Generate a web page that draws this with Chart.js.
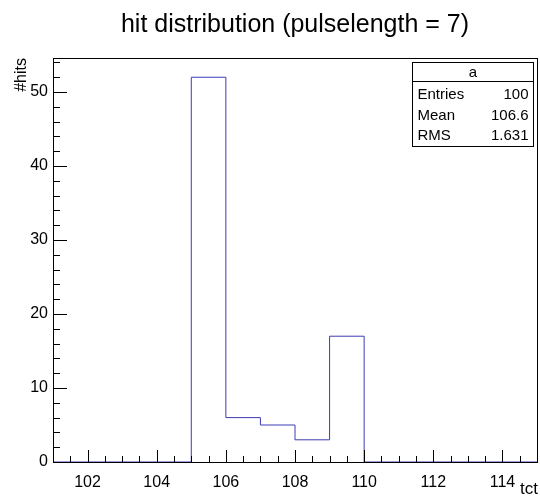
<!DOCTYPE html>
<html>
<head>
<meta charset="utf-8">
<script src="https://cdn.jsdelivr.net/npm/chart.js@4"></script>
<style>
  body { margin: 0; background: #fff; }
  canvas { display: block; }
</style>
</head>
<body>
<canvas id="hist" width="540" height="500"></canvas>
<script>
// histogram "a": one bin per unit, low edges 101..114
const binLowEdges = [101, 102, 103, 104, 105, 106, 107, 108, 109, 110, 111, 112, 113, 114];
const binCounts   = [0, 0, 0, 0, 52, 6, 5, 3, 17, 0, 0, 0, 0, 0];
const binWidth = 1;

const xTickLabels = [102, 104, 106, 108, 110, 112, 114];
const yTickLabels = [0, 10, 20, 30, 40, 50];

const statsName   = 'a';
const statsLabels = ['Entries', 'Mean', 'RMS'];
const statsValues = ['100', '106.6', '1.631'];

const FONT = '"Liberation Sans", Arial, Helvetica, sans-serif';

// step points: low edge of each bin, plus closing point at the last upper edge
const stepPoints = binLowEdges.map((x, i) => ({ x: x, y: binCounts[i] }));
stepPoints.push({ x: binLowEdges[binLowEdges.length - 1] + binWidth, y: 0 });

// ROOT style frame: box around plot, ticks pointing inward, titles, stats box
const rootFrame = {
    id: 'rootFrame',
    afterDraw(chart) {
        const ctx = chart.ctx;
        const area = chart.chartArea;
        const xs = chart.scales.x, ys = chart.scales.y;
        ctx.save();
        ctx.strokeStyle = '#000';
        ctx.lineWidth = 1;

        // frame
        ctx.strokeRect(Math.round(area.left) + 0.5, Math.round(area.top) + 0.5,
                       Math.round(area.right - area.left), Math.round(area.bottom - area.top));

        // x ticks (major every 2, minor every 0.5)
        ctx.beginPath();
        for (let v = xs.min; v <= xs.max + 1e-9; v += 0.5) {
            const px = Math.round(xs.getPixelForValue(v)) + 0.5;
            const len = (Math.abs(v / 2 - Math.round(v / 2)) < 1e-9) ? 12 : 6;
            ctx.moveTo(px, area.bottom);
            ctx.lineTo(px, area.bottom - len);
        }
        // y ticks (major every 10, minor every 2)
        for (let v = 0; v <= ys.max + 1e-9; v += 2) {
            const py = Math.round(ys.getPixelForValue(v)) + 0.5;
            const len = (v % 10 === 0) ? 14 : 7;
            ctx.moveTo(area.left, py);
            ctx.lineTo(area.left + len, py);
        }
        ctx.stroke();

        // title
        ctx.fillStyle = '#000';
        ctx.font = '25px ' + FONT;
        ctx.textAlign = 'center';
        ctx.textBaseline = 'alphabetic';
        ctx.fillText('hit distribution (pulselength = 7)', (area.left + area.right) / 2, 32);

        // axis titles
        ctx.font = '17px ' + FONT;
        ctx.textAlign = 'right';
        ctx.fillText('tct', area.right + 1, 494);
        ctx.font = '16px ' + FONT;
        ctx.save();
        ctx.translate(26, area.top);
        ctx.rotate(-Math.PI / 2);
        ctx.fillText('#hits', 0, 0);
        ctx.restore();

        // stats box
        const bx = 412.5, by = 62.5, bw = 121, bh = 84;
        ctx.fillStyle = '#fff';
        ctx.fillRect(bx, by, bw, bh);
        ctx.strokeRect(bx, by, bw, bh);
        ctx.beginPath();
        ctx.moveTo(bx, 81.5);
        ctx.lineTo(bx + bw, 81.5);
        ctx.stroke();
        ctx.fillStyle = '#000';
        ctx.font = '15px ' + FONT;
        ctx.textAlign = 'center';
        ctx.fillText(statsName, bx + bw / 2, 77);
        statsLabels.forEach((label, i) => {
            const base = 99 + i * 20.5;
            ctx.textAlign = 'left';
            ctx.fillText(label, bx + 5, base);
            ctx.textAlign = 'right';
            ctx.fillText(statsValues[i], bx + bw - 5, base);
        });
        ctx.restore();
    }
};

new Chart(document.getElementById('hist'), {
    type: 'line',
    data: {
        datasets: [{
            label: statsName,
            data: stepPoints,
            stepped: 'before',
            borderColor: '#3c3cb4',
            borderWidth: 1,
            pointRadius: 0,
            fill: false
        }]
    },
    options: {
        responsive: false,
        animation: false,
        layout: { padding: { top: 58, right: 3, left: 0, bottom: 0 } },
        plugins: {
            legend: { display: false },
            title: { display: false },
            tooltip: { enabled: false }
        },
        scales: {
            x: {
                type: 'linear',
                min: 101,
                max: 115,
                grid: { display: false },
                border: { display: false },
                afterBuildTicks: scale => { scale.ticks = xTickLabels.map(v => ({ value: v })); },
                afterFit: scale => { scale.height = 38; },
                ticks: {
                    padding: 3,
                    maxRotation: 0,
                    color: '#000',
                    font: { family: FONT, size: 16 }
                }
            },
            y: {
                min: 0,
                max: 54.6,
                grid: { display: false, drawTicks: false },
                border: { display: false },
                afterBuildTicks: scale => { scale.ticks = yTickLabels.map(v => ({ value: v })); },
                afterFit: scale => { scale.width = 53; },
                ticks: {
                    padding: 5,
                    color: '#000',
                    font: { family: FONT, size: 16 }
                }
            }
        }
    },
    plugins: [rootFrame]
});
</script>
</body>
</html>
